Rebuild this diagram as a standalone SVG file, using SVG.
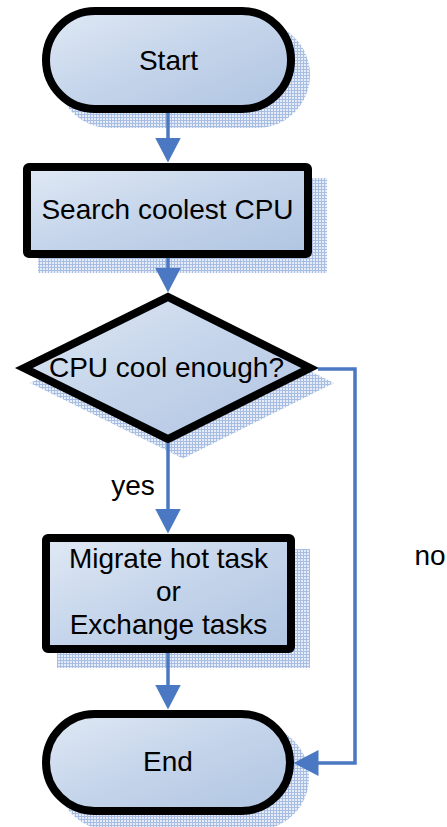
<svg xmlns="http://www.w3.org/2000/svg" width="447" height="827" viewBox="0 0 447 827">
<style>
.node{fill:url(#grad);stroke:#000;stroke-width:8;stroke-linejoin:miter}
.shadow{fill:url(#hatch);stroke:none}
.lbl{font-family:"Liberation Sans",Arial,sans-serif;font-size:28px;fill:#000;text-anchor:middle}
.conn{fill:none;stroke:#4a78c2;stroke-width:3.5}
</style>
<defs>
<linearGradient id="grad" x1="0" y1="0" x2="1" y2="1">
<stop offset="0" stop-color="#e0e9f5"/>
<stop offset="0.5" stop-color="#c4d4ea"/>
<stop offset="1" stop-color="#b0c5e2"/>
</linearGradient>
<pattern id="hatch" width="3" height="3" patternUnits="userSpaceOnUse">
<rect width="3" height="3" fill="#e6edf8"/>
<path d="M0,0.5H3M0.5,0V3" stroke="#a7bde2" stroke-width="1"/>
</pattern>
<marker id="arr" markerUnits="userSpaceOnUse" viewBox="0 0 25 26" markerWidth="25" markerHeight="26" refX="0.5" refY="13" orient="auto">
<path d="M0,0L25,13L0,26z" fill="#4a78c2"/>
</marker>
</defs>
<g id="start">
<rect class="shadow" x="57" y="22" width="253" height="106" rx="53"/>
<rect class="node" x="46" y="11" width="245" height="98" rx="49"/>
<text class="lbl" x="168.5" y="70">Start</text>
</g>
<g id="search">
<rect class="shadow" x="38" y="178" width="289" height="95"/>
<rect class="node" x="27" y="167" width="281" height="87" rx="2"/>
<text class="lbl" x="167.5" y="219">Search coolest CPU</text>
</g>
<g id="decision">
<polygon class="shadow" points="30,383 183,307.5 334,383 183,458.5"/>
<polygon class="node" points="24,368 168,297 310,368 168,439"/>
<text class="lbl" x="166.5" y="377">CPU cool enough?</text>
</g>
<g id="migrate">
<rect class="shadow" x="57" y="549" width="253" height="119"/>
<rect class="node" x="46" y="538" width="245" height="111" rx="2"/>
<text class="lbl" x="168.5" y="568">Migrate hot task</text>
<text class="lbl" x="168.5" y="601">or</text>
<text class="lbl" x="168.5" y="634">Exchange tasks</text>
</g>
<g id="end">
<rect class="shadow" x="57" y="725" width="252" height="105" rx="52.5"/>
<rect class="node" x="46" y="714" width="244" height="97" rx="48.5"/>
<text class="lbl" x="168" y="771">End</text>
</g>
<g id="connectors">
<path class="conn" d="M168,113V138" marker-end="url(#arr)"/>
<path class="conn" d="M168,258V268" marker-end="url(#arr)"/>
<path class="conn" d="M168,443V509" marker-end="url(#arr)"/>
<path class="conn" d="M168,653V685" marker-end="url(#arr)"/>
<path class="conn" d="M318,369H355V763H318" marker-end="url(#arr)"/>
<text class="lbl" x="133" y="495">yes</text>
<text class="lbl" x="430" y="565">no</text>
</g>
</svg>
